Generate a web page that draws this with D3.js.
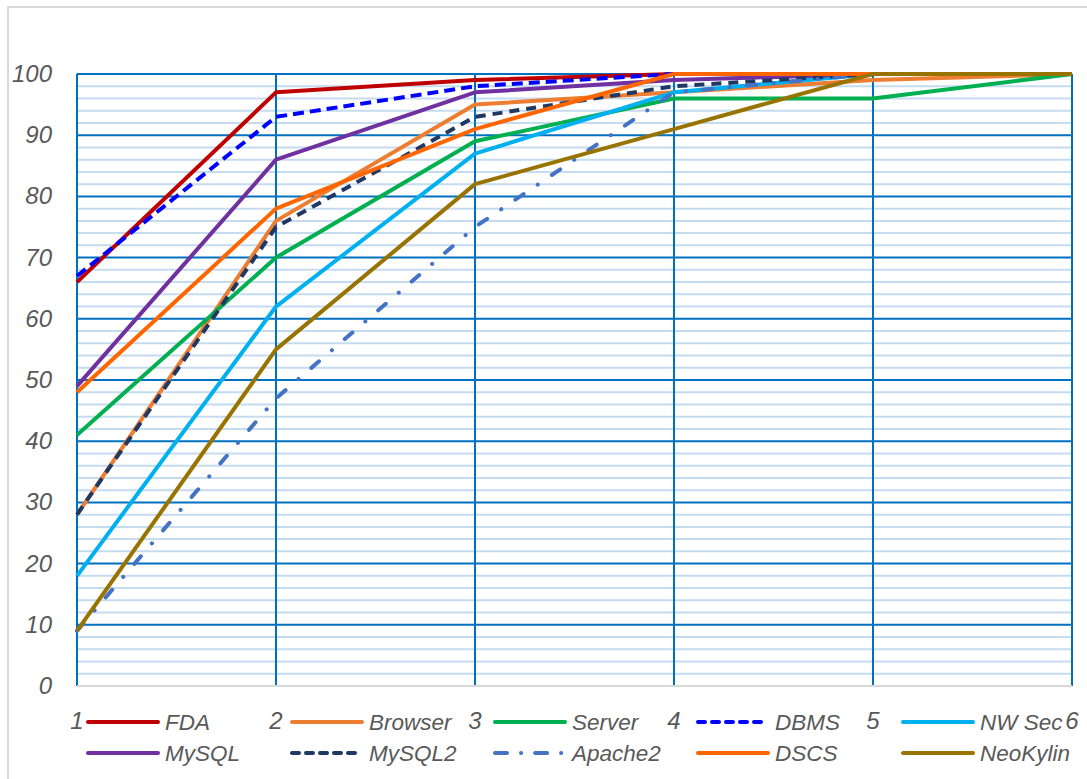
<!DOCTYPE html>
<html>
<head>
<meta charset="utf-8">
<script src="https://cdn.jsdelivr.net/npm/d3@7"></script>
<style>
  body { margin: 0; background: #fff; }
  svg text { font-family: "Liberation Sans", Arial, sans-serif; font-style: italic; fill: #595959; }
</style>
</head>
<body>
<div id="chart"></div>
<script>
// data
var categories = [1, 2, 3, 4, 5, 6];
var seriesNames = ["FDA", "Browser", "Server", "DBMS", "NW Sec", "MySQL", "MySQL2", "Apache2", "DSCS", "NeoKylin"];
var FDA      = [66, 97, 99, 100, 100, 100];
var Browser  = [28, 76, 95, 97, 99, 100];
var Server   = [41, 70, 89, 96, 96, 100];
var DBMS     = [67, 93, 98, 100, 100, 100];
var NWSec    = [18, 62, 87, 97, 100, 100];
var MySQL    = [49, 86, 97, 99, 100, 100];
var MySQL2   = [28, 75, 93, 98, 100, 100];
var Apache2  = [9, 47, 75, 97, 100, 100];
var DSCS     = [48, 78, 91, 100, 100, 100];
var NeoKylin = [9, 55, 82, 91, 100, 100];
var yTicks = [0, 10, 20, 30, 40, 50, 60, 70, 80, 90, 100];

var seriesValues = [FDA, Browser, Server, DBMS, NWSec, MySQL, MySQL2, Apache2, DSCS, NeoKylin];
var colors = ["#C00000", "#ED7D31", "#00B050", "#0000FF", "#00B0F0", "#7030A0", "#203864", "#4472C4", "#FF6600", "#997300"];
var dashes = [null, null, null, "11,6", null, null, "10,7", "10,17,0.1,17", null, null];
var caps   = ["butt", "butt", "butt", "butt", "butt", "butt", "butt", "round", "butt", "butt"];

var W = 1087, H = 779;
var svg = d3.select("#chart").append("svg").attr("width", W).attr("height", H);

// outer chart border
svg.append("rect")
  .attr("x", 8).attr("y", 7).attr("width", W + 20).attr("height", H + 20)
  .attr("fill", "none").attr("stroke", "#D9D9D9").attr("stroke-width", 2);

var x = d3.scalePoint().domain(categories).range([77, 1072]);
var y = d3.scaleLinear().domain([0, 100]).range([686, 74]);

// minor grid every 2
var minor = d3.range(2, 100, 2).filter(function(d){ return d % 10 !== 0; });
svg.append("g").selectAll("line").data(minor).enter().append("line")
  .attr("x1", 77).attr("x2", 1072)
  .attr("y1", function(d){ return y(d); }).attr("y2", function(d){ return y(d); })
  .attr("stroke", "#C5DCF0").attr("stroke-width", 2);

// major grid
svg.append("g").selectAll("line").data(yTicks.filter(function(d){ return d > 0; })).enter().append("line")
  .attr("x1", 77).attr("x2", 1072)
  .attr("y1", function(d){ return y(d); }).attr("y2", function(d){ return y(d); })
  .attr("stroke", "#0070C0").attr("stroke-width", 2);

svg.append("g").selectAll("line").data(categories).enter().append("line")
  .attr("x1", function(d){ return x(d); }).attr("x2", function(d){ return x(d); })
  .attr("y1", 74).attr("y2", 686)
  .attr("stroke", "#0070C0").attr("stroke-width", 2);

// x axis baseline
svg.append("line")
  .attr("x1", 77).attr("x2", 1072).attr("y1", 686).attr("y2", 686)
  .attr("stroke", "#D9D9D9").attr("stroke-width", 2);

// y tick labels
svg.append("g").selectAll("text").data(yTicks).enter().append("text")
  .attr("x", 52).attr("y", function(d){ return y(d) + 8; })
  .attr("text-anchor", "end").style("font-size", "24px")
  .text(function(d){ return d; });

// series lines
var line = d3.line()
  .x(function(d, i){ return x(categories[i]); })
  .y(function(d){ return y(d); });

seriesValues.forEach(function(vals, k) {
  svg.append("path")
    .attr("d", line(vals))
    .attr("fill", "none")
    .attr("stroke", colors[k])
    .attr("stroke-width", 4)
    .attr("stroke-linejoin", "round")
    .attr("stroke-linecap", caps[k])
    .attr("stroke-dasharray", dashes[k]);
});

// category labels (sit in the legend rows)
svg.append("g").selectAll("text").data(categories).enter().append("text")
  .attr("x", function(d){ return x(d); }).attr("y", 729)
  .attr("text-anchor", "middle").style("font-size", "24px")
  .text(function(d){ return d; });

// legend, 5 per row
var legX = [88, 292, 495, 698, 903];
var legY = [722, 753];
var leg = svg.append("g").selectAll("g").data(seriesNames).enter().append("g")
  .attr("transform", function(d, i){ return "translate(" + legX[i % 5] + "," + legY[Math.floor(i / 5)] + ")"; });
leg.append("line")
  .attr("x1", 0).attr("x2", 70).attr("y1", 0).attr("y2", 0)
  .attr("stroke", function(d, i){ return colors[i]; })
  .attr("stroke-width", 4)
  .attr("stroke-linecap", "round")
  .attr("stroke-dasharray", function(d, i){ return dashes[i] ? (i === 7 ? "12,14,0.1,14" : "7,7") : null; });
leg.append("text")
  .attr("x", 77).attr("y", 8)
  .style("font-size", "22.5px")
  .text(function(d){ return d; });
</script>
</body>
</html>
